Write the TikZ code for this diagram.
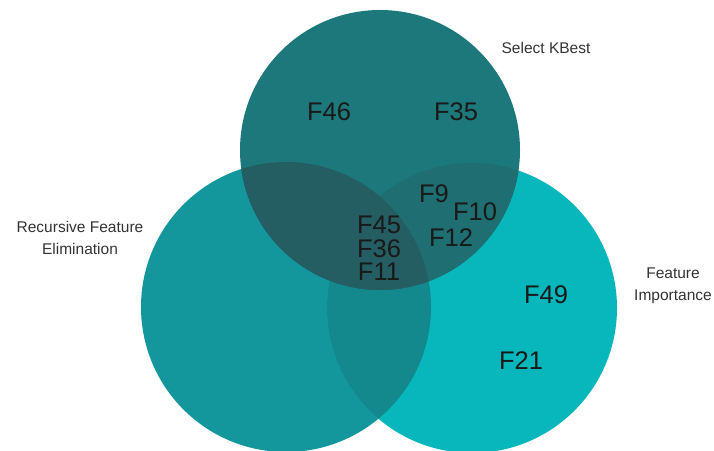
\documentclass[tikz,border=0pt]{standalone}
\usepackage{fontspec}
\setmainfont{Liberation Sans}
\definecolor{rfefill}{HTML}{13979C}
\definecolor{fifill}{HTML}{07B7BC}
\definecolor{kbfill}{HTML}{1D787B}
\definecolor{rfefifill}{HTML}{14898D}
\definecolor{kbrfefill}{HTML}{245E63}
\definecolor{kbfifill}{HTML}{1E6E72}
\begin{document}
\begin{tikzpicture}[x=1pt, y=-1pt,
      feat/.style={font=\fontsize{25.5}{23.5}\selectfont, text=black!90, inner sep=0pt},
      setname/.style={font=\fontsize{15.5}{22}\selectfont, text=black!80, align=center, inner sep=0pt}]
   \useasboundingbox (0,0) rectangle (714,450);
   \clip (0,0) rectangle (714,450);
   \coordinate (rfe) at (286,307);
   \coordinate (fi) at (472,308);
   \coordinate (kb) at (380,150);
   \fill[rfefill] (rfe) circle (145pt);
   \fill[fifill] (fi) circle (145pt);
   \begin{scope}
      \clip (rfe) circle (145pt);
      \fill[rfefifill] (fi) circle (145pt);
   \end{scope}
   \fill[kbfill] (kb) circle (140pt);
   \begin{scope}
      \clip (kb) circle (140pt);
      \fill[kbfifill] (fi) circle (145pt);
      \fill[kbrfefill] (rfe) circle (145pt);
   \end{scope}
   \node[setname] (kbname) at (546,48) {Select KBest};
   \node[setname] (rfename) at (80,238) {Recursive Feature\\Elimination};
   \node[setname] (finame) at (673,286) {Feature\\Importance};
   \node[feat] (f46) at (329,112) {F46};
   \node[feat] (f35) at (456,112) {F35};
   \node[feat] (f9) at (434,194) {F9};
   \node[feat] (f10) at (475,212) {F10};
   \node[feat] (f12) at (451,238) {F12};
   \node[feat] (f45) at (379,225) {F45};
   \node[feat] (f36) at (379,249) {F36};
   \node[feat] (f11) at (379,272) {F11};
   \node[feat] (f49) at (546,295) {F49};
   \node[feat] (f21) at (521,361) {F21};
\end{tikzpicture}
\end{document}
